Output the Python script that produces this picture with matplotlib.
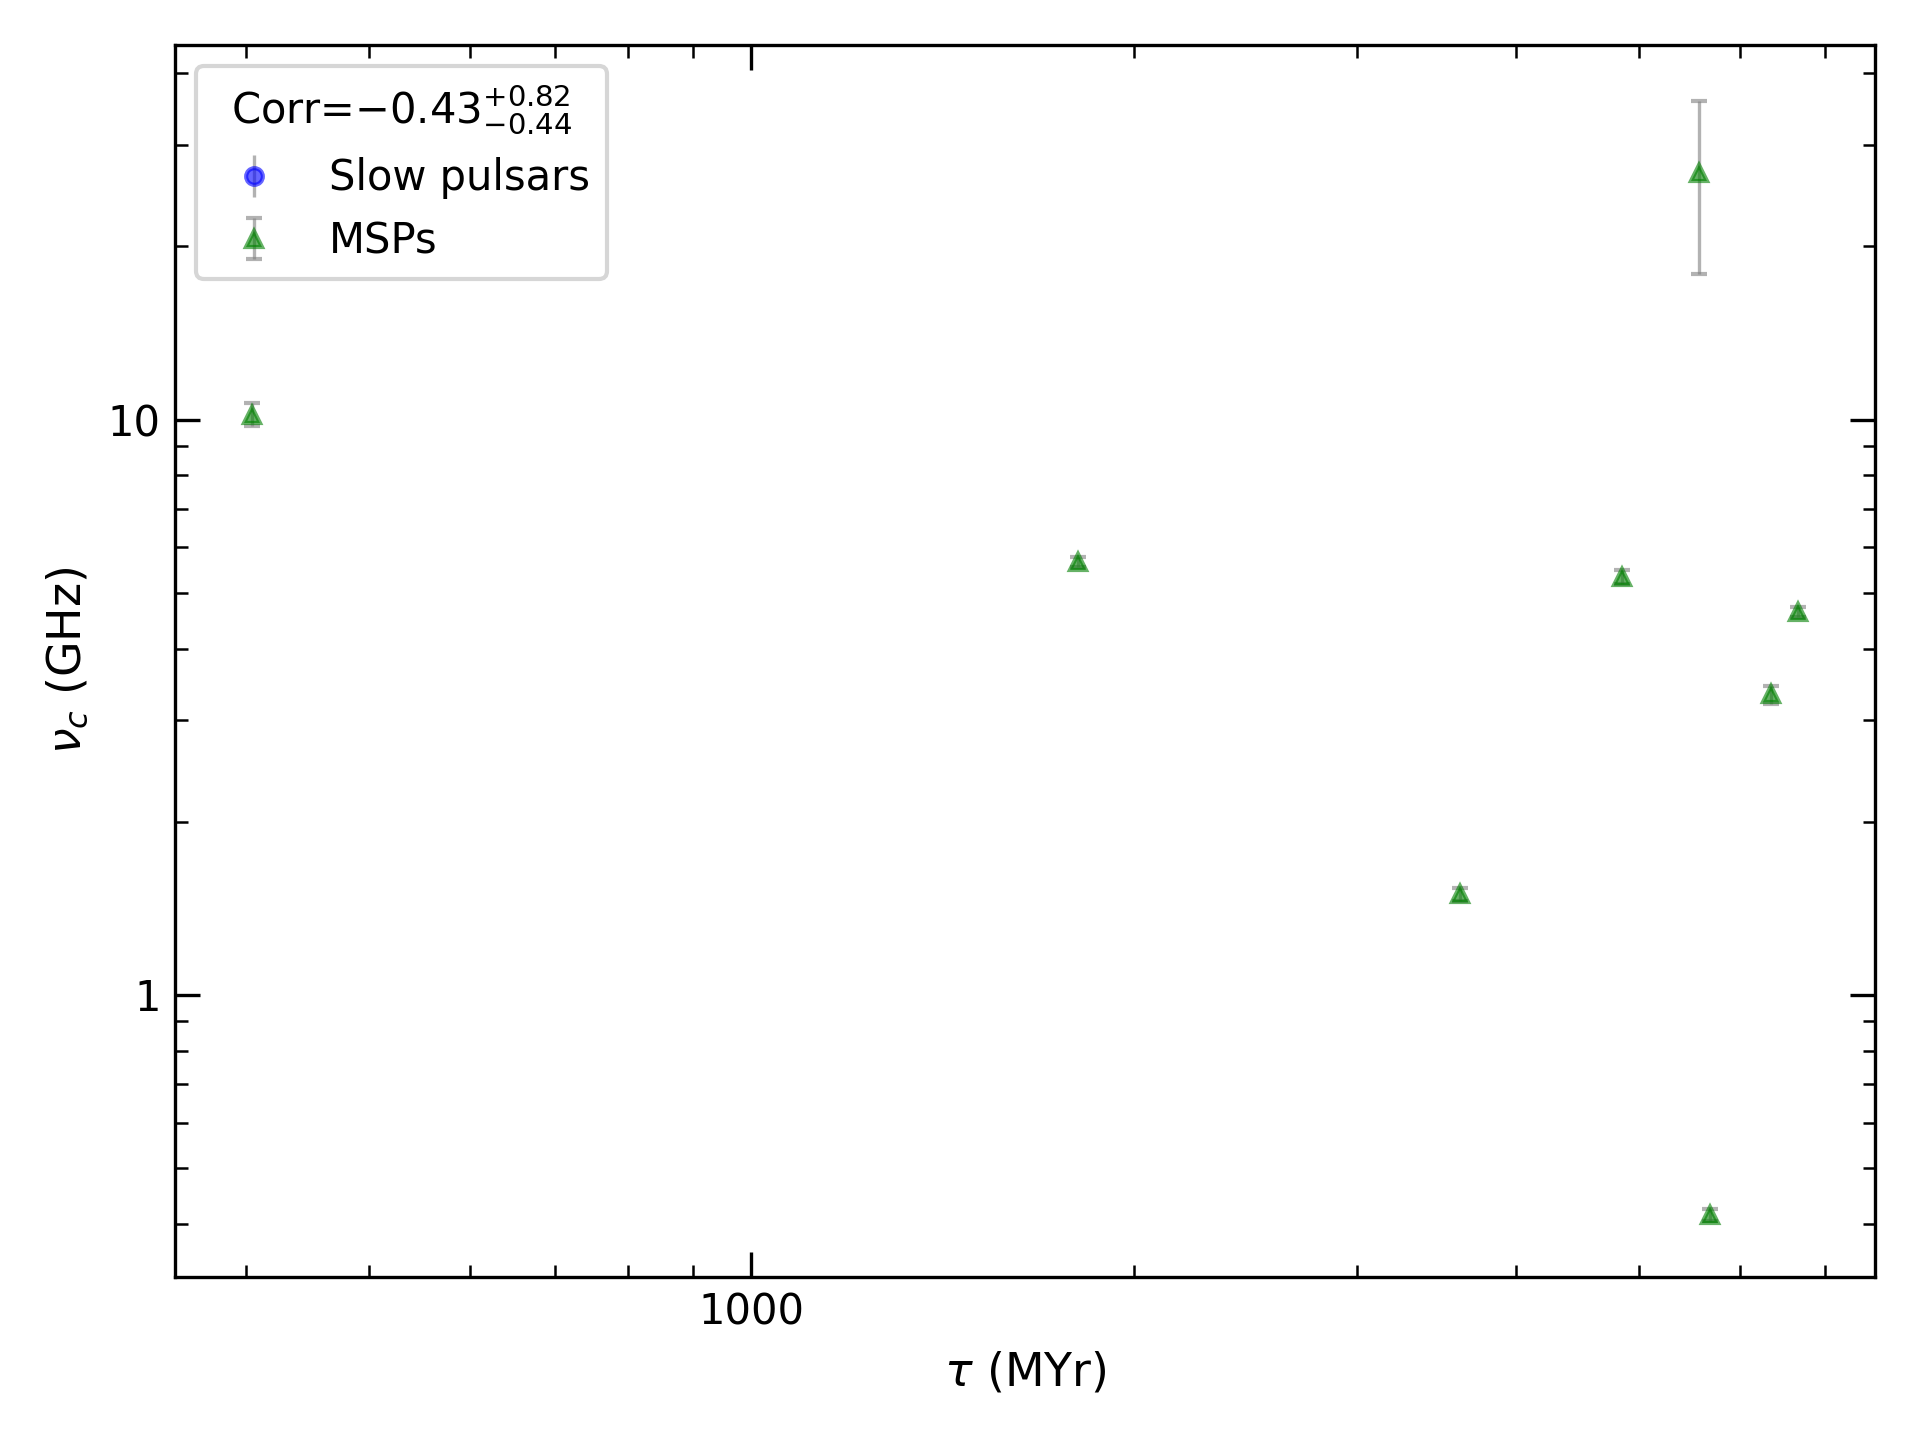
import matplotlib
matplotlib.use("Agg")
import matplotlib.pyplot as plt
from matplotlib.ticker import FuncFormatter, NullFormatter
import numpy as np

# MSP characteristic age (MYr) vs cutoff frequency (GHz)
msp_tau = [404.5, 1806, 3611, 4847, 5577, 5690, 6346, 6666]
msp_nu = [10.2, 5.66, 1.496, 5.33, 26.8, 0.415, 3.33, 4.63]
msp_err_lo = [0.45, 0.12, 0.04, 0.15, 8.9, 0.01, 0.12, 0.1]
msp_err_hi = [0.5, 0.12, 0.04, 0.15, 9.0, 0.01, 0.12, 0.1]

# no slow pulsars in this sample
slow_tau = []
slow_nu = []
slow_err = []

corr_title = r"Corr=$-0.43^{+0.82}_{-0.44}$"

fig, ax = plt.subplots(figsize=(6.4, 4.8), dpi=300)

ax.errorbar(slow_tau, slow_nu, yerr=slow_err, fmt="o", color="blue", alpha=0.6,
            ecolor="gray", elinewidth=0.8, capsize=0, markersize=4, label="Slow pulsars")
ax.errorbar(msp_tau, msp_nu, yerr=[msp_err_lo, msp_err_hi], fmt="^", color="green", alpha=0.6,
            ecolor="gray", elinewidth=0.8, capsize=2, markersize=4, label="MSPs")

ax.set_xscale("log")
ax.set_yscale("log")
for axis in [ax.xaxis, ax.yaxis]:
    axis.set_major_formatter(FuncFormatter(lambda v, p: "%g" % v))
    axis.set_minor_formatter(NullFormatter())

ax.tick_params(which="both", direction="in", top=True, right=True, labelsize=10)
ax.tick_params(which="major", length=6)
ax.tick_params(which="minor", length=3)

ax.set_xlabel(r"$\tau$ (MYr)", fontsize=11)
ax.set_ylabel(r"$\nu_c$ (GHz)", fontsize=11)

leg = ax.legend(title=corr_title, fontsize=10, title_fontsize=10, loc="upper left")

plt.tight_layout()
plt.savefig("out.png", dpi=300)
